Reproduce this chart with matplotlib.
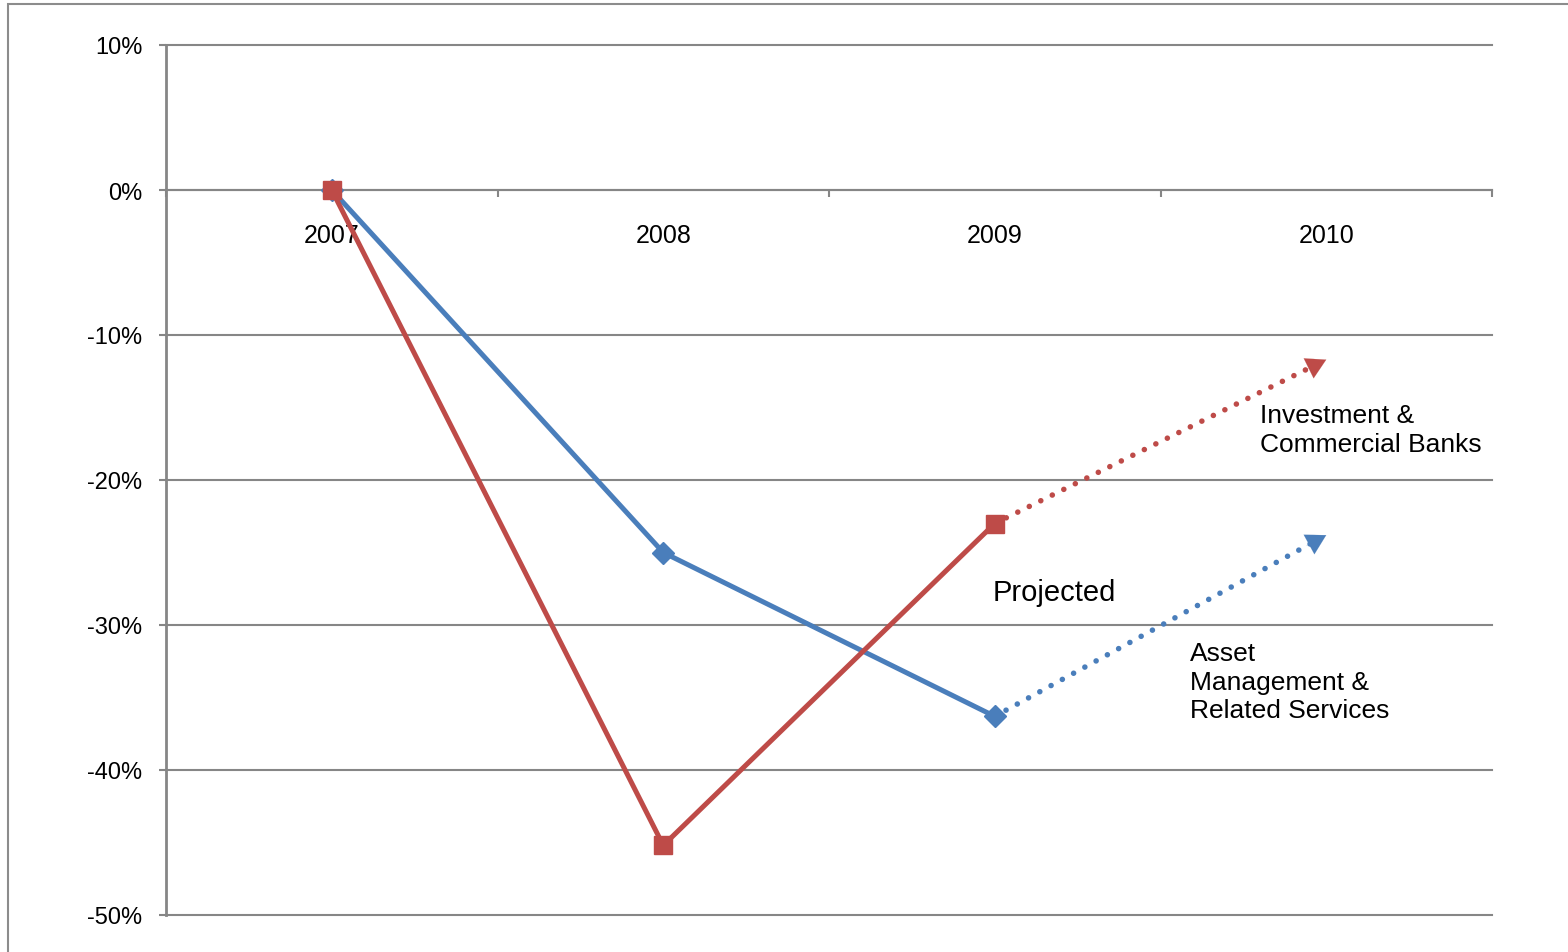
import numpy as np
import matplotlib
matplotlib.use("Agg")
import matplotlib.pyplot as plt
from matplotlib.patches import Rectangle

# data (percent change)
years = ['2007', '2008', '2009', '2010']
asset_mgmt = [0.0, -25.0, -36.3]          # actual
asset_mgmt_proj = -23.8                   # projected 2010
banks = [0.0, -45.2, -23.0]
banks_proj = -11.7
yticks = [10, 0, -10, -20, -30, -40, -50]

blue = '#4A7EBB'
red = '#BE4B48'
grey = '#868686'

plt.rcParams['font.family'] = ['Liberation Sans', 'DejaVu Sans']

fig = plt.figure(figsize=(15.68, 9.53), dpi=100)
ax = fig.add_axes([166/1568, 1 - 916/953, (1492-166)/1568, (916-46)/953])

# outer frame (only left/top visible in the crop)
fig.add_artist(Rectangle((8/1568, -0.1), 1.2, 1.1 - 5/953, transform=fig.transFigure,
                         fill=False, edgecolor='#8c8c8c', lw=1.5))

x = np.arange(len(years))
ax.set_xlim(-0.5, len(years) - 0.5)
ax.set_ylim(-50, 10)

# grid and axes
ax.set_yticks(yticks)
ax.set_yticklabels(['%d%%' % v for v in yticks])
ax.yaxis.grid(True, color=grey, lw=1.5)
for gl in ax.get_ygridlines():
    gl.set_clip_on(False)
ax.set_axisbelow(True)

for s in ['top', 'right']:
    ax.spines[s].set_visible(False)
ax.spines['left'].set_color(grey)
ax.spines['left'].set_linewidth(2)
ax.spines['bottom'].set_position(('data', 0))
ax.spines['bottom'].set_color(grey)
ax.spines['bottom'].set_linewidth(1.5)

ax.set_xticks(x)
ax.set_xticklabels(years)
ax.set_xticks(np.arange(-0.5, len(years)), minor=True)
ax.tick_params(axis='x', which='major', length=0, pad=24, labelsize=18)
ax.tick_params(axis='x', which='minor', length=5, width=1.5, color=grey, direction='out')
ax.tick_params(axis='y', length=5, width=1.5, color=grey, pad=12, labelsize=17)

# actual series
ax.plot(x[:3], asset_mgmt, color=blue, lw=3.6, marker='D', ms=11, zorder=3)
ax.plot(x[:3], banks, color=red, lw=3.6, marker='s', ms=13, zorder=4)

# projected dotted arrows
def proj(y0, y1, col):
    xe = x[3] - 0.04
    ax.plot([x[2], xe], [y0, y0 + (y1 - y0) * (xe - x[2])], color=col, lw=4.0,
            linestyle=(0, (0.01, 2.3)), dash_capstyle='round', zorder=3)
    dx = 0.06
    ax.annotate('', xy=(x[3], y1), xytext=(x[3] - dx, y1 - (y1 - y0) * dx),
                arrowprops=dict(arrowstyle='-|>,head_length=1.4,head_width=0.8',
                                color=col, lw=0.1, shrinkA=0, shrinkB=0), zorder=4)

proj(asset_mgmt[-1], asset_mgmt_proj, blue)
proj(banks[-1], banks_proj, red)

ax.text(1.995, -27.7, 'Projected', fontsize=21, ha='left', va='center')
ax.text(2.8, -16.5, 'Investment &\nCommercial Banks', fontsize=19, ha='left', va='center',
        linespacing=1.24)
ax.text(2.59, -33.9, 'Asset\nManagement &\nRelated Services', fontsize=19, ha='left',
        va='center', linespacing=1.24)

fig.savefig('out.png', dpi=100)
